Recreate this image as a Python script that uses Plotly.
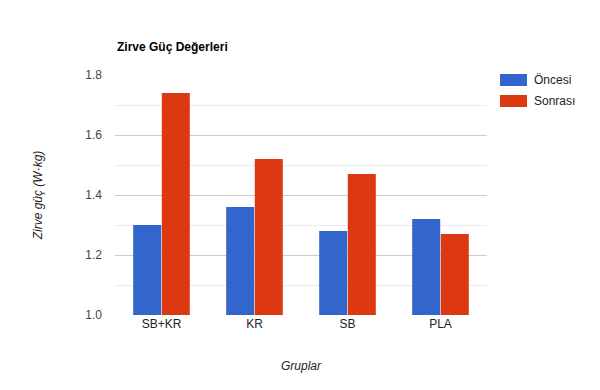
import plotly.graph_objects as go

categories = ["SB+KR", "KR", "SB", "PLA"]
series_names = ["Öncesi", "Sonrası"]
oncesi = [1.30, 1.36, 1.28, 1.32]
sonrasi = [1.74, 1.52, 1.47, 1.27]
y_ticks = [1.0, 1.2, 1.4, 1.6, 1.8]
colors = ["#3366cc", "#dc3912"]

FONT = "Liberation Sans, Arial, sans-serif"
L, R, T, B = 107, 121, 67, 83
PW = 600 - L - R
PH = 390 - T - B
OFF = 8  # page body margin


def px(x):
    return (x - OFF - L) / PW


def py(y):
    return (PH - (y - OFF - T)) / PH


fig = go.Figure()
for name, vals, c in zip(series_names, [oncesi, sonrasi], colors):
    fig.add_trace(go.Bar(x=categories, y=vals, name=name, marker_color=c,
                         marker_line_width=0, showlegend=False))

# manual legend
for i, (name, c) in enumerate(zip(series_names, colors)):
    yc = 80 + i * 21
    fig.add_shape(type="rect", xref="paper", yref="paper",
                  x0=px(500), x1=px(527), y0=py(yc + 6), y1=py(yc - 6),
                  fillcolor=c, line_width=0)
    fig.add_annotation(xref="paper", yref="paper", x=px(532), y=py(yc),
                       text=name, showarrow=False,
                       xanchor="left", yanchor="middle",
                       font=dict(size=12, color="#222", family=FONT))

fig.update_layout(
    width=600, height=390,
    margin=dict(l=L, r=R, t=T, b=B),
    paper_bgcolor="white", plot_bgcolor="white",
    font=dict(family=FONT, size=12, color="#444"),
    bargap=0.385, bargroupgap=0.02,
    title=dict(text="<b>Zirve Güç Değerleri</b>", x=(117 - OFF) / 600, xanchor="left",
               y=1 - (47 - OFF) / 390, yanchor="middle",
               font=dict(size=12, color="#000", family=FONT)),
    xaxis=dict(showgrid=False, ticks="", tickfont=dict(size=12, color="#222"),
               title=dict(text="<i>Gruplar</i>", standoff=31,
                          font=dict(size=12, color="#222"))),
    yaxis=dict(range=[1.0, 1.8], tickvals=y_ticks,
               ticktext=[f"{v:.1f}" for v in y_ticks],
               gridcolor="#cccccc", gridwidth=1, zeroline=False,
               tickfont=dict(size=12, color="#444"), ticks="",
               ticklabelstandoff=12,
               minor=dict(dtick=0.1, showgrid=True, gridcolor="#ebebeb"),
               title=dict(text="<i>Zirve güç (W·kg)</i>", standoff=40,
                          font=dict(size=12, color="#222"))),
)

fig.write_html("out.html")
